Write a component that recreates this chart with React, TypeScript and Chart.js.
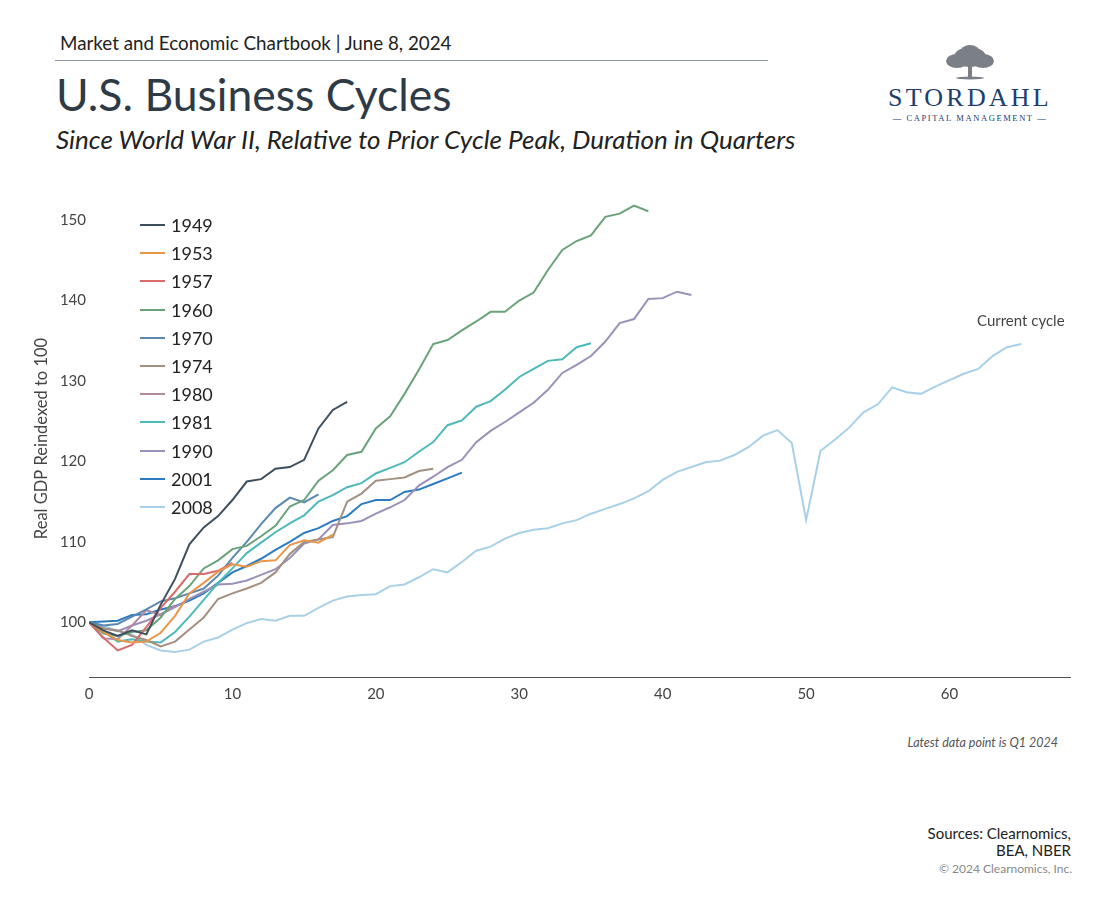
import React, { useEffect, useRef } from 'react';
import Chart from 'chart.js/auto';

const FONT = 'Lato, "Noto Sans", sans-serif';

// GDP relative to prior cycle peak (=100), one value per quarter since the peak
const cycleLabels = ['1949', '1953', '1957', '1960', '1970', '1974', '1980', '1981', '1990', '2001', '2008'];
const cycleColors = ['#3d4f5f', '#e8974a', '#d96b6b', '#6aa37a', '#5b88b0', '#a39080', '#b08aa0', '#4fb8b8', '#9a90b8', '#2a7bbf', '#a8d0e6'];

const cycle1949 = [100, 99.0, 98.3, 99.0, 98.5, 102.2, 105.4, 109.7, 111.8, 113.2, 115.2, 117.5, 117.8, 119.1, 119.3, 120.2, 124.1, 126.4, 127.4];
const cycle1953 = [100, 98.8, 97.8, 97.5, 97.6, 98.7, 100.8, 103.6, 104.9, 106.3, 107.2, 106.9, 107.6, 107.7, 109.6, 110.2, 109.9, 110.9];
const cycle1957 = [100, 98.1, 96.5, 97.2, 99.4, 101.8, 103.8, 106.0, 106.0, 106.4, 107.4];
const cycle1960 = [100, 98.6, 98.3, 98.8, 99.0, 100.6, 102.9, 104.5, 106.7, 107.7, 109.1, 109.5, 110.7, 112.0, 114.4, 115.2, 117.6, 118.9, 120.8, 121.2, 124.1, 125.6, 128.4, 131.4, 134.6, 135.1, 136.3, 137.4, 138.6, 138.6, 140.0, 141.0, 143.8, 146.3, 147.4, 148.1, 150.4, 150.8, 151.8, 151.1];
const cycle1970 = [100, 99.6, 99.8, 100.7, 101.6, 102.6, 103.0, 103.6, 104.2, 105.8, 108.0, 110.0, 112.2, 114.2, 115.5, 114.9, 115.9];
const cycle1974 = [100, 99.2, 99.0, 98.3, 97.8, 97.0, 97.6, 99.1, 100.6, 102.9, 103.6, 104.2, 104.9, 106.2, 108.5, 110.0, 110.3, 110.6, 115.0, 116.0, 117.6, 117.8, 118.0, 118.8, 119.1];
const cycle1980 = [100, 98.0, 97.9, 99.6, 101.5, 100.9, 102.1];
const cycle1981 = [100, 98.9, 97.6, 97.9, 97.6, 97.5, 98.8, 100.7, 102.8, 104.9, 106.7, 108.6, 109.9, 111.2, 112.3, 113.3, 115.0, 115.8, 116.8, 117.3, 118.5, 119.2, 119.9, 121.2, 122.4, 124.5, 125.1, 126.8, 127.5, 128.9, 130.5, 131.5, 132.5, 132.7, 134.2, 134.7];
const cycle1990 = [100, 99.3, 98.9, 99.6, 100.2, 101.0, 101.9, 102.9, 103.8, 104.7, 104.8, 105.2, 105.9, 106.6, 108.0, 109.8, 110.3, 112.1, 112.3, 112.6, 113.5, 114.3, 115.2, 117.0, 118.1, 119.3, 120.2, 122.4, 123.8, 124.9, 126.1, 127.3, 128.9, 131.0, 132.0, 133.1, 134.9, 137.2, 137.7, 140.2, 140.3, 141.1, 140.7];
const cycle2001 = [100, 100.1, 100.2, 100.9, 101.0, 101.6, 102.0, 102.7, 103.6, 104.9, 106.2, 107.0, 107.9, 109.0, 110.0, 111.1, 111.7, 112.6, 113.2, 114.7, 115.2, 115.2, 116.2, 116.5, 117.2, 117.9, 118.6];
const cycle2008 = [100, 99.6, 98.9, 98.5, 97.2, 96.5, 96.3, 96.6, 97.6, 98.1, 99.1, 99.9, 100.4, 100.2, 100.8, 100.8, 101.8, 102.7, 103.2, 103.4, 103.5, 104.5, 104.7, 105.6, 106.6, 106.2, 107.5, 108.9, 109.4, 110.4, 111.1, 111.5, 111.7, 112.3, 112.7, 113.5, 114.1, 114.7, 115.4, 116.3, 117.7, 118.7, 119.3, 119.9, 120.1, 120.8, 121.8, 123.2, 123.9, 122.3, 112.7, 121.3, 122.7, 124.2, 126.1, 127.1, 129.2, 128.6, 128.4, 129.3, 130.1, 130.9, 131.5, 133.1, 134.2, 134.6];

const cycleValues = [cycle1949, cycle1953, cycle1957, cycle1960, cycle1970, cycle1974, cycle1980, cycle1981, cycle1990, cycle2001, cycle2008];

const xTicks = [0, 10, 20, 30, 40, 50, 60];
const yTicks = [100, 110, 120, 130, 140, 150];

const BusinessCycles: React.FC = () => {
    const chartRef = useRef<HTMLCanvasElement>(null);
    const chartInstanceRef = useRef<Chart | null>(null);

    useEffect(() => {
        if (!chartRef.current) return;
        const ctx = chartRef.current.getContext('2d');
        if (!ctx) return;

        if (chartInstanceRef.current) {
            chartInstanceRef.current.destroy();
            chartInstanceRef.current = null;
        }

        chartInstanceRef.current = new Chart(ctx, {
            type: 'line',
            data: {
                datasets: cycleValues.map((vals, i) => ({
                    label: cycleLabels[i],
                    data: vals.map((v, q) => ({ x: q, y: v })),
                    borderColor: cycleColors[i],
                    backgroundColor: cycleColors[i],
                    borderWidth: 2,
                    pointRadius: 0,
                    tension: 0,
                })),
            },
            options: {
                responsive: false,
                animation: false,
                layout: { padding: { top: 20, right: 15, left: 0, bottom: 0 } },
                plugins: {
                    legend: { display: false },
                    tooltip: { enabled: false },
                },
                scales: {
                    x: {
                        type: 'linear',
                        min: 0,
                        max: 68.4,
                        grid: { display: false, drawTicks: false },
                        border: { display: true, color: '#555', width: 1 },
                        ticks: {
                            stepSize: 10,
                            padding: 8,
                            color: '#444',
                            font: { family: FONT, size: 15 },
                        },
                        afterBuildTicks: (scale: any) => {
                            scale.ticks = xTicks.map((v) => ({ value: v }));
                        },
                        afterFit: (scale: any) => {
                            scale.height = 30;
                        },
                    },
                    y: {
                        min: 93.2,
                        max: 152.5,
                        grid: { display: false, drawTicks: false },
                        border: { display: false },
                        ticks: {
                            padding: 3,
                            color: '#444',
                            font: { family: FONT, size: 15 },
                        },
                        afterBuildTicks: (scale: any) => {
                            scale.ticks = yTicks.map((v) => ({ value: v }));
                        },
                        afterFit: (scale: any) => {
                            scale.width = 64;
                        },
                        title: {
                            display: true,
                            text: 'Real GDP Reindexed to 100',
                            color: '#444',
                            font: { family: FONT, size: 16.5 },
                            padding: { top: 7, bottom: 0 },
                        },
                    },
                },
            },
        });

        return () => {
            if (chartInstanceRef.current) {
                chartInstanceRef.current.destroy();
                chartInstanceRef.current = null;
            }
        };
    }, []);

    return <canvas ref={chartRef} width={1060} height={527} style={{ position: 'absolute', left: 25, top: 180 }} />;
};

const Logo: React.FC = () => (
    <div style={{ position: 'absolute', left: 880, top: 44, width: 180, textAlign: 'center' }}>
        <svg width="60" height="38" viewBox="0 0 60 38" style={{ display: 'block', margin: '0 auto' }}>
            <g fill="#7b8088">
                <ellipse cx="30" cy="13" rx="16" ry="10" />
                <ellipse cx="17" cy="17" rx="11" ry="7" />
                <ellipse cx="43" cy="17" rx="11" ry="7" />
                <ellipse cx="30" cy="9" rx="10" ry="8" />
                <rect x="28" y="18" width="4" height="15" />
                <ellipse cx="30" cy="34" rx="14" ry="1.5" />
            </g>
        </svg>
        <div style={{ fontFamily: '"Liberation Serif", "DejaVu Serif", serif', fontSize: 26, letterSpacing: 3.2, color: '#213d70', lineHeight: '28px', marginTop: 2 }}>
            STORDAHL
        </div>
        <div style={{ fontFamily: '"Liberation Serif", serif', fontSize: 8.5, letterSpacing: 1.6, color: '#213d70', lineHeight: '12px' }}>
            — CAPITAL MANAGEMENT —
        </div>
    </div>
);

const App: React.FC = () => {
    useEffect(() => {
        document.body.style.margin = '0';
    }, []);

    return (
        <div style={{ position: 'relative', width: 1108, height: 904, background: '#fff', fontFamily: FONT, overflow: 'hidden' }}>
            <div style={{ position: 'absolute', left: 60, top: 31, fontSize: 18.8, color: '#222', lineHeight: '24px' }}>
                Market and Economic Chartbook | June 8, 2024
            </div>
            <div style={{ position: 'absolute', left: 55, top: 60, width: 713, height: 1, background: '#8a97a8' }} />
            <div style={{ position: 'absolute', left: 56, top: 66, fontSize: 44.5, color: '#2e3a46', lineHeight: '56px' }}>
                U.S. Business Cycles
            </div>
            <div style={{ position: 'absolute', left: 56, top: 123, fontSize: 26, fontStyle: 'italic', color: '#222', lineHeight: '32px' }}>
                Since World War II, Relative to Prior Cycle Peak, Duration in Quarters
            </div>
            <Logo />
            <BusinessCycles />
            <div style={{ position: 'absolute', left: 140, top: 211 }}>
                {cycleLabels.map((label, i) => (
                    <div key={label} style={{ display: 'flex', alignItems: 'center', height: 28.2 }}>
                        <div style={{ width: 25, height: 2, background: cycleColors[i], marginRight: 6 }} />
                        <span style={{ fontSize: 18, color: '#222' }}>{label}</span>
                    </div>
                ))}
            </div>
            <div style={{ position: 'absolute', left: 977, top: 311, fontSize: 15, color: '#444' }}>Current cycle</div>
            <div style={{ position: 'absolute', right: 50, top: 735, fontSize: 12.5, fontStyle: 'italic', color: '#555' }}>
                Latest data point is Q1 2024
            </div>
            <div style={{ position: 'absolute', right: 37, top: 825, fontSize: 15, color: '#222', textAlign: 'right', lineHeight: '17px' }}>
                Sources: Clearnomics,
                <br />
                BEA, NBER
            </div>
            <div style={{ position: 'absolute', right: 36, top: 861, fontSize: 12, color: '#888' }}>© 2024 Clearnomics, Inc.</div>
        </div>
    );
};

export default App;
